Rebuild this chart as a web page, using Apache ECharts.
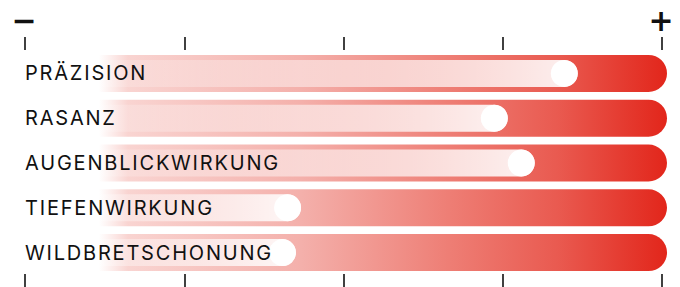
<!DOCTYPE html>
<html>
<head>
<meta charset="utf-8">
<script src="https://cdn.jsdelivr.net/npm/echarts@6/dist/echarts.min.js"></script>
<style>
	html, body { margin: 0; padding: 0; background: #fff; }
	#chart { width: 680px; height: 287px; }
	/* Sperrung der Beschriftung */
	#chart text { letter-spacing: 1.8px; }
</style>
</head>
<body>
<div id="chart"></div>
<script>
	// Kategorien von oben nach unten
	const categories = ['PRÄZISION', 'RASANZ', 'AUGENBLICKWIRKUNG', 'TIEFENWIRKUNG', 'WILDBRETSCHONUNG']
	const fullScale = [100, 100, 100, 100, 100]
	const scores = [86.1, 75.2, 79.4, 43.0, 42.2]
	const tickValues = [0, 1, 2, 3, 4]
	const tickLabels = ['−', '', '', '', '+']

	const tickAxis = (pos, showLabel) => ({
		gridIndex: 0,
		type: 'value',
		position: pos,
		min: tickValues[0],
		max: tickValues[tickValues.length - 1],
		interval: 1,
		axisLine: { show: false, onZero: false },
		splitLine: { show: false },
		axisTick: {
			show: true,
			length: 13,
			lineStyle: { color: '#111', width: 1.6 }
		},
		axisLabel: {
			show: showLabel,
			margin: 15,
			fontSize: 30,
			lineHeight: 30,
			fontWeight: 'bold',
			fontFamily: 'DejaVu Sans',
			color: '#111',
			formatter: (v) => tickLabels[tickValues.indexOf(v)] || ''
		}
	})

	const option = {
		animation: false,
		grid: [
			{ left: 25, right: 18, top: 50, bottom: 13 },
			{ left: 25, right: 13, top: 51, bottom: 12 }
		],
		xAxis: [
			tickAxis('top', true),
			tickAxis('bottom', false),
			{ gridIndex: 1, type: 'value', min: 0, max: 100, show: false }
		],
		yAxis: [
			{ gridIndex: 0, type: 'value', min: 0, max: 1, show: false },
			{
				gridIndex: 1,
				type: 'category',
				inverse: true,
				data: categories,
				z: 10,
				axisLine: { show: false },
				axisTick: { show: false },
				axisLabel: {
					inside: true,
					margin: 0,
					color: '#111',
					fontSize: 20,
					fontFamily: 'Inter'
				}
			},
			{ gridIndex: 1, type: 'category', inverse: true, data: categories, show: false }
		],
		series: [
			{
				// roter Hintergrundbalken
				type: 'bar',
				xAxisIndex: 2,
				yAxisIndex: 1,
				data: fullScale,
				barWidth: 37,
				silent: true,
				itemStyle: {
					borderRadius: [0, 18.5, 18.5, 0],
					color: new echarts.graphic.LinearGradient(0, 0, 1, 0, [
						{ offset: 0, color: 'rgba(255,255,255,0)' },
						{ offset: 0.115, color: 'rgba(250,215,212,0)' },
						{ offset: 0.16, color: '#F9D4D1' },
						{ offset: 0.43, color: '#F4B0AB' },
						{ offset: 0.66, color: '#EE7E75' },
						{ offset: 0.83, color: '#E95A50' },
						{ offset: 1, color: '#E2261B' }
					])
				}
			},
			{
				// weißer Wertbalken
				type: 'bar',
				xAxisIndex: 2,
				yAxisIndex: 2,
				data: scores,
				barWidth: 27,
				silent: true,
				itemStyle: {
					borderRadius: [0, 13.5, 13.5, 0],
					color: new echarts.graphic.LinearGradient(0, 0, 1, 0, [
						{ offset: 0, color: 'rgba(255,255,255,0)' },
						{ offset: 1, color: 'rgba(255,255,255,0.92)' }
					])
				}
			},
			{
				type: 'scatter',
				xAxisIndex: 2,
				yAxisIndex: 2,
				data: scores,
				symbol: 'circle',
				symbolSize: 27,
				symbolOffset: [-13.5, 0],
				silent: true,
				itemStyle: { color: '#fff', opacity: 1 }
			}
		]
	}

	const chart = echarts.init(document.getElementById('chart'), null, { renderer: 'svg' })
	chart.setOption(option)
	window.onresize = () => {
		chart.resize()
	}
</script>
</body>
</html>
